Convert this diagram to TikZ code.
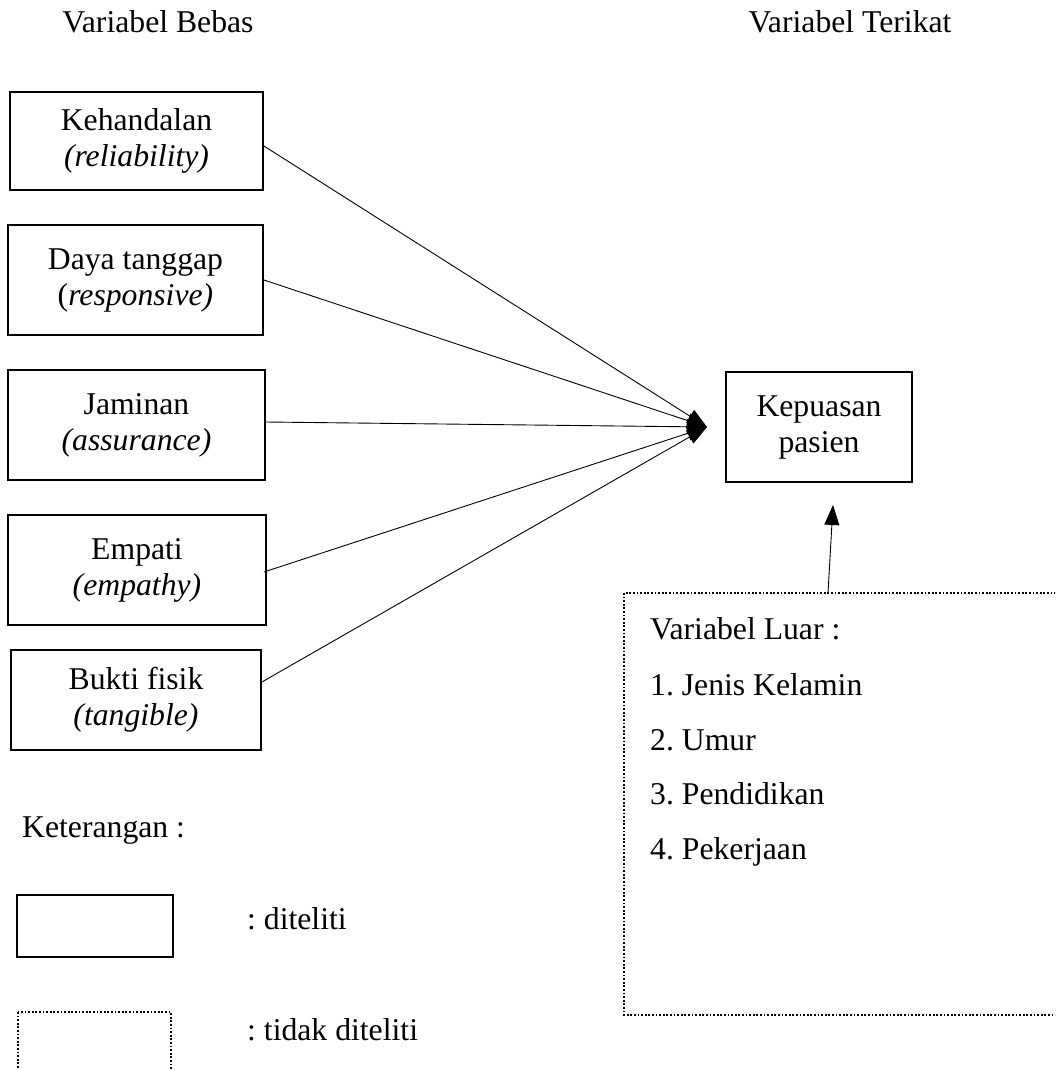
\documentclass[tikz,border=0pt]{standalone}
\usepackage{fontspec}
\setmainfont{Liberation Serif}
\usetikzlibrary{arrows.meta}
\frenchspacing
\begin{document}
\begin{tikzpicture}[x=1pt,y=-1pt,
  every node/.style={font=\fontsize{31.7}{36}\selectfont\frenchspacing, inner sep=0pt},
  box/.style={draw, line width=1.8pt, align=center},
  dotbox/.style={draw, line width=1.8pt, dash pattern=on 1.8pt off 1.8pt},
  lbl/.style={anchor=west, text height=22pt, text depth=7pt},
  conn/.style={line width=0.9pt, -{Triangle[length=20pt,width=15pt]}}]
\useasboundingbox (0,0) rectangle (1055,1070);
\clip (0,0) rectangle (1055,1070);
\node (hb) at (158,22) {Variabel Bebas};
\node (ht) at (850,22) {Variabel Terikat};
\node[box, minimum width=253pt, minimum height=98pt] (k1) at (136.5,141) {Kehandalan\\\textit{(reliability)}};
\node[box, minimum width=255pt, minimum height=110pt] (k2) at (135.5,280) {Daya tanggap\\(\textit{responsive)}};
\node[box, minimum width=257pt, minimum height=110pt] (k3) at (136.5,425) {Jaminan\\\textit{(assurance)}};
\node[box, minimum width=258pt, minimum height=110pt] (k4) at (137,570) {Empati\\\textit{(empathy)}};
\node[box, minimum width=250pt, minimum height=100pt] (k5) at (136,700) {Bukti fisik\\\textit{(tangible)}};
\node[box, minimum width=186pt, minimum height=110pt] (kp) at (819,427) {Kepuasan\\pasien};
\coordinate (tip) at (707,427);
\draw[conn] ([yshift=-5pt]k1.east) -- (tip);
\draw[conn] (k2.east) -- (tip);
\draw[conn] ([yshift=3pt]k3.east) -- (tip);
\draw[conn] ([xshift=-3pt,yshift=-2pt]k4.east) -- (tip);
\draw[conn] ([yshift=18pt]k5.east) -- (tip);
\draw[dotbox] (624,593) rectangle (1075,1015);
\coordinate (vl) at (828,593);
\draw[conn] (vl) -- (833,505);
\node[lbl] (v0) at (650,632) {Variabel Luar :};
\node[lbl] (v1) at (650,688) {1. Jenis Kelamin};
\node[lbl] (v2) at (650,743) {2. Umur};
\node[lbl] (v3) at (650,797) {3. Pendidikan};
\node[lbl] (v4) at (650,852) {4. Pekerjaan};
\node[lbl] (ket) at (22,830) {Keterangan :};
\draw[line width=1.8pt] (17,895) rectangle (173,957);
\node[lbl] (l1) at (247,922) {: diteliti};
\draw[dotbox] (18,1012) rectangle (171,1090);
\node[lbl] (l2) at (247,1033) {: tidak diteliti};
\end{tikzpicture}
\end{document}
